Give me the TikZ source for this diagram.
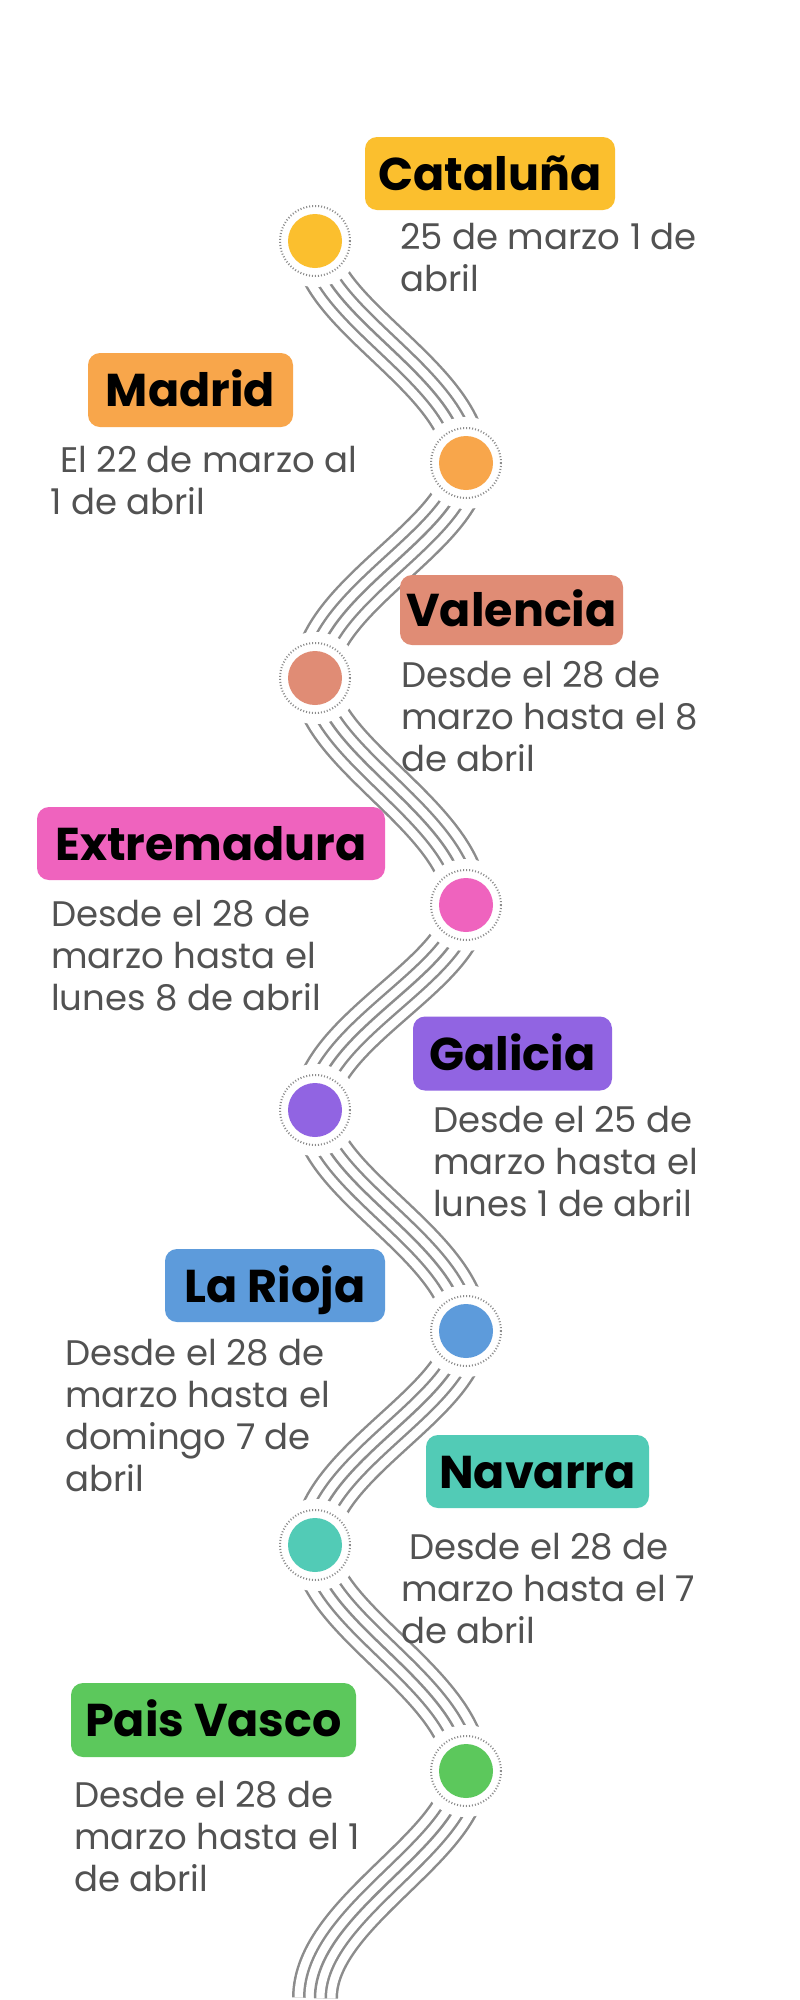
\documentclass[tikz,border=0pt]{standalone}
\usepackage{fontspec}
\setmainfont{Poppins}
\definecolor{ccat}{RGB}{251,191,46}
\definecolor{cmad}{RGB}{248,166,75}
\definecolor{cval}{RGB}{224,140,117}
\definecolor{cext}{RGB}{239,99,190}
\definecolor{cgal}{RGB}{145,100,226}
\definecolor{crio}{RGB}{93,155,219}
\definecolor{cnav}{RGB}{82,203,182}
\definecolor{cpv}{RGB}{92,200,92}
\definecolor{wavegray}{RGB}{140,140,140}
\definecolor{desctext}{RGB}{82,82,82}
\tikzset{
  ringline/.style={draw=wavegray, line width=2pt, dash pattern=on 1pt off 2pt},
  dotnode/.style={circle, minimum size=54pt, inner sep=0pt},
  titlebox/.style={rounded corners=12pt, inner sep=0pt, text=black,
    font=\fontsize{46}{50}\selectfont\bfseries, text height=33pt, text depth=0pt},
  desc/.style={anchor=base west, inner sep=0pt, text=desctext,
    font=\fontsize{35.5}{42}\selectfont}
}
\begin{document}
\begin{tikzpicture}[x=1pt,y=-1pt]
\useasboundingbox (0,0) rectangle (800,2000);
\fill[white] (0,0) rectangle (800,2000);
% dot centres
\coordinate (d1) at (315,241);
\coordinate (d2) at (466,463);
\coordinate (d3) at (315,678);
\coordinate (d4) at (466,905);
\coordinate (d5) at (315,1110);
\coordinate (d6) at (466,1331);
\coordinate (d7) at (315,1545);
\coordinate (d8) at (466,1771);
\coordinate (d9) at (315,1998);
% wavy bundles of five parallel lines (stacked strokes)
\foreach \a/\b/\dy in {d1/d2/222, d2/d3/215, d3/d4/227, d4/d5/205,
                       d5/d6/221, d6/d7/214, d7/d8/226, d8/d9/227}{
  \foreach \w/\col in {46/wavegray, 41/white, 24/wavegray, 19/white, 2.5/wavegray}{
    \draw[draw=\col, line width=\w pt] (\a) .. controls +(0,{0.33*\dy}) and +(0,{-0.38*\dy}) .. (\b);
  }
}
% dots
\foreach \c/\col/\n in {d1/ccat/p1, d2/cmad/p2, d3/cval/p3, d4/cext/p4, d5/cgal/p5, d6/crio/p6, d7/cnav/p7, d8/cpv/p8}{
  \fill[white] (\c) circle (46);
  \draw[ringline] (\c) circle (35);
  \node[dotnode, fill=\col] (\n) at (\c) {};
}
% titles
\node[titlebox, fill=ccat, minimum width=250pt, minimum height=73pt] (t1) at (490,173.5) {Cataluña};
\node[titlebox, fill=cmad, minimum width=205pt, minimum height=74pt] (t2) at (190.5,390) {Madrid};
\node[titlebox, fill=cval, minimum width=223pt, minimum height=70pt] (t3) at (511.5,610) {Valencia};
\node[titlebox, fill=cext, minimum width=348pt, minimum height=73pt] (t4) at (211,843.5) {Extremadura};
\node[titlebox, fill=cgal, minimum width=199pt, minimum height=74pt] (t5) at (512.5,1053.5) {Galicia};
\node[titlebox, fill=crio, minimum width=220pt, minimum height=73pt] (t6) at (275,1285.5) {La Rioja};
\node[titlebox, fill=cnav, minimum width=223pt, minimum height=73pt] (t7) at (537.5,1471.5) {Navarra};
\node[titlebox, fill=cpv, minimum width=285pt, minimum height=74pt] (t8) at (213.5,1720) {Pais Vasco};
% descriptions
\node[desc] (e1) at (400,249) {\begin{tabular}[t]{@{}l@{}}25 de marzo 1 de\\abril\end{tabular}};
\node[desc] (e2) at (50,472) {\begin{tabular}[t]{@{}l@{}}\hspace{10pt}El 22 de marzo al\\1 de abril\end{tabular}};
\node[desc] (e3) at (401,687) {\begin{tabular}[t]{@{}l@{}}Desde el 28 de\\marzo hasta el 8\\de abril\end{tabular}};
\node[desc] (e4) at (51,926) {\begin{tabular}[t]{@{}l@{}}Desde el 28 de\\marzo hasta el\\lunes 8 de abril\end{tabular}};
\node[desc] (e5) at (433,1132) {\begin{tabular}[t]{@{}l@{}}Desde el 25 de\\marzo hasta el\\lunes 1 de abril\end{tabular}};
\node[desc] (e6) at (65,1365) {\begin{tabular}[t]{@{}l@{}}Desde el 28 de\\marzo hasta el\\domingo 7 de\\abril\end{tabular}};
\node[desc] (e7) at (401,1559) {\begin{tabular}[t]{@{}l@{}}\hspace{8pt}Desde el 28 de\\marzo hasta el 7\\de abril\end{tabular}};
\node[desc] (e8) at (74,1807) {\begin{tabular}[t]{@{}l@{}}Desde el 28 de\\marzo hasta el 1\\de abril\end{tabular}};
\end{tikzpicture}
\end{document}
